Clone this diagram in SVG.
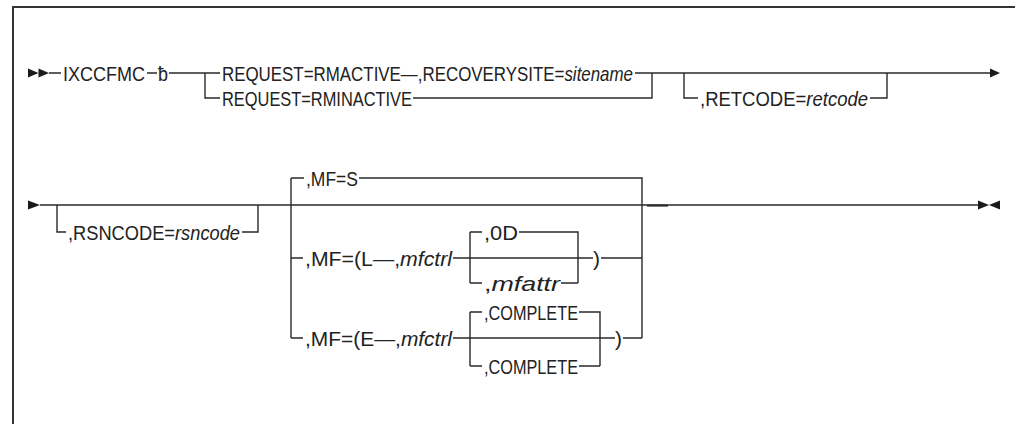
<svg xmlns="http://www.w3.org/2000/svg" width="1015" height="424" viewBox="0 0 1015 424">
<style>
text{font-family:"Liberation Sans",Arial,sans-serif;font-size:21px;fill:#222}
.i{font-style:italic}
.c path,.c line{stroke:#2a2a2a;stroke-width:1.4;fill:none}
.c .ah{fill:#1a1a1a;stroke:none}
.f{stroke:#333;stroke-width:2;fill:none}
</style>
<rect width="1015" height="424" fill="#fff"/>
<path class="f" d="M13,424 V7 H1015"/>
<g class="c" id="connectors">
<path class="ah" d="M28,68.5 L38.5,73 L28,77.5 Z M38.5,68.5 L49,73 L38.5,77.5 Z"/>
<path d="M49,73 H61 M147,73 H157 M169,73 H220 M205,73 V98 H220 M413,98 H652 V73 M635,73 H990 M684,73 V98 H698 M870,98 H887 V73"/>
<path class="ah" d="M990,68.5 L1000,73 L990,77.5 Z"/>
<path class="ah" d="M28,200.5 L40,205 L28,209.5 Z"/>
<path d="M40,205 H978 M57,205 V232 H66 M242,232 H258 V205"/>
<path d="M291,178 V338 M291,178 H304 M359,178 H642 V338 M291,258 H303 M453,258 H593 M601,258 H642 M291,338 H303 M453,338 H615 M623,338 H642"/>
<path d="M470,232 V283 M470,232 H482 M519,232 H578 V283 M470,283 H482 M561,283 H578"/>
<path d="M470,312 V366 M470,312 H482 M579,312 H600 V366 M470,366 H482 M579,366 H600"/>
<line x1="647" y1="205.6" x2="668" y2="205.6" style="stroke-width:2"/>
<path class="ah" d="M978,200.5 L989,205 L978,209.5 Z M1000,200.5 L989,205 L1000,209.5 Z"/>
</g>
<g id="cmd"><text x="63" y="80.5" textLength="82" lengthAdjust="spacingAndGlyphs">IXCCFMC</text></g>
<g id="blank"><text x="158" y="80.5" textLength="10" lengthAdjust="spacingAndGlyphs">ƀ</text></g>
<g id="rmactive"><text x="222" y="80.5" textLength="411" lengthAdjust="spacingAndGlyphs">REQUEST=RMACTIVE—,RECOVERYSITE=<tspan class="i">sitename</tspan></text></g>
<g id="rminactive"><text x="222" y="105.5" textLength="190" lengthAdjust="spacingAndGlyphs">REQUEST=RMINACTIVE</text></g>
<g id="retcode"><text x="700" y="105.5" textLength="168" lengthAdjust="spacingAndGlyphs">,RETCODE=<tspan class="i">retcode</tspan></text></g>
<g id="rsncode"><text x="68" y="239.5" textLength="172" lengthAdjust="spacingAndGlyphs">,RSNCODE=<tspan class="i">rsncode</tspan></text></g>
<g id="mfs"><text x="306" y="185.5" textLength="52" lengthAdjust="spacingAndGlyphs">,MF=S</text></g>
<g id="mfl"><text x="305" y="265.5" textLength="147" lengthAdjust="spacingAndGlyphs">,MF=(L—,<tspan class="i">mfctrl</tspan></text><text x="593" y="265.5" textLength="7" lengthAdjust="spacingAndGlyphs">)</text></g>
<g id="od"><text x="484" y="239.5" textLength="34" lengthAdjust="spacingAndGlyphs">,0D</text></g>
<g id="mfattr"><text x="484" y="290.5" textLength="76" lengthAdjust="spacingAndGlyphs">,<tspan class="i">mfattr</tspan></text></g>
<g id="mfe"><text x="305" y="345.5" textLength="147" lengthAdjust="spacingAndGlyphs">,MF=(E—,<tspan class="i">mfctrl</tspan></text><text x="615" y="345.5" textLength="7" lengthAdjust="spacingAndGlyphs">)</text></g>
<g id="complete1"><text x="484" y="319.5" textLength="94" lengthAdjust="spacingAndGlyphs">,COMPLETE</text></g>
<g id="complete2"><text x="484" y="373.5" textLength="94" lengthAdjust="spacingAndGlyphs">,COMPLETE</text></g>
</svg>
